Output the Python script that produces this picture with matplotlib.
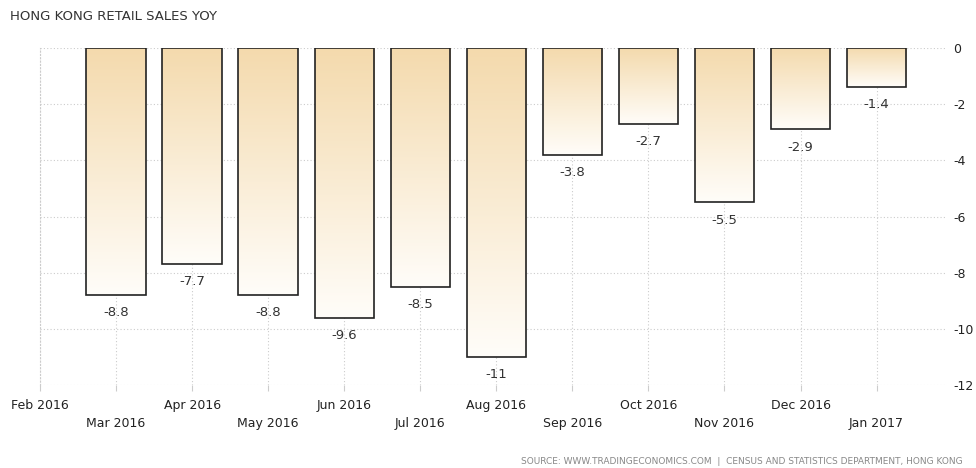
import numpy as np
import matplotlib
matplotlib.use("Agg")
import matplotlib.pyplot as plt
from matplotlib.colors import LinearSegmentedColormap

# data
months = ["Feb 2016", "Mar 2016", "Apr 2016", "May 2016", "Jun 2016", "Jul 2016",
          "Aug 2016", "Sep 2016", "Oct 2016", "Nov 2016", "Dec 2016", "Jan 2017"]
bar_months = months[1:]
values = [-8.8, -7.7, -8.8, -9.6, -8.5, -11, -3.8, -2.7, -5.5, -2.9, -1.4]
value_labels = ["-8.8", "-7.7", "-8.8", "-9.6", "-8.5", "-11", "-3.8", "-2.7", "-5.5", "-2.9", "-1.4"]
yticks = [0, -2, -4, -6, -8, -10, -12]

plt.rcParams['font.family'] = ['DejaVu Sans']

fig = plt.figure(figsize=(9.76, 4.68), dpi=100)
ax = fig.add_axes([40/976, 1-385/468, 905/976, (385-48)/468])

x_all = np.arange(len(months))
x_bars = x_all[1:]
width = 0.78

# each bar gets its own top-to-bottom tan gradient
grad_cmap = LinearSegmentedColormap.from_list("tan", ["#F4DAAD", "#FFFDF9"])
grad = np.linspace(0, 1, 256).reshape(-1, 1)

bars = ax.bar(x_bars, values, width=width, color="none", edgecolor="#222222",
              linewidth=1.2, zorder=3)
for b in bars:
    x0, w = b.get_x(), b.get_width()
    y0, h = b.get_y(), b.get_height()
    im = ax.imshow(grad, cmap=grad_cmap, aspect="auto", origin="upper",
                   extent=[x0, x0 + w, y0 + h, y0], zorder=2)
    im.set_clip_path(b)

for xb, v, lab in zip(x_bars, values, value_labels):
    ax.annotate(lab, (xb, v), xytext=(0, -8), textcoords="offset points",
                ha="center", va="top", fontsize=9.5, color="#333333")

ax.set_xlim(0, 11.9)
ax.set_ylim(-12, 0)

ax.set_xticks(x_all)
ax.set_xticklabels([m if i % 2 == 0 else "\n" + m for i, m in enumerate(months)],
                   fontsize=9, color="#222222", linespacing=1.5)
ax.set_yticks(yticks)
ax.set_yticklabels([str(t) for t in yticks], fontsize=9, color="#222222")
ax.yaxis.tick_right()
ax.tick_params(axis="y", length=0, pad=6)
ax.tick_params(axis="x", length=4, color="#cccccc", pad=6)

ax.grid(True, color="#cccccc", linestyle=(0, (1, 2)), linewidth=0.8, zorder=0)
ax.set_axisbelow(True)
for s in ["top", "right", "bottom"]:
    ax.spines[s].set_visible(False)
ax.spines["left"].set_color("#cccccc")
ax.spines["left"].set_linestyle((0, (1, 2)))
ax.spines["left"].set_linewidth(0.8)

fig.text(10/976, 1-16/468, "HONG KONG RETAIL SALES YOY", fontsize=9.5,
         color="#333333", ha="left", va="center")
fig.text(963/976, 1-461/468,
         "SOURCE: WWW.TRADINGECONOMICS.COM  |  CENSUS AND STATISTICS DEPARTMENT, HONG KONG",
         fontsize=6.5, color="#888888", ha="right", va="center")

fig.savefig("out.png", dpi=100)
